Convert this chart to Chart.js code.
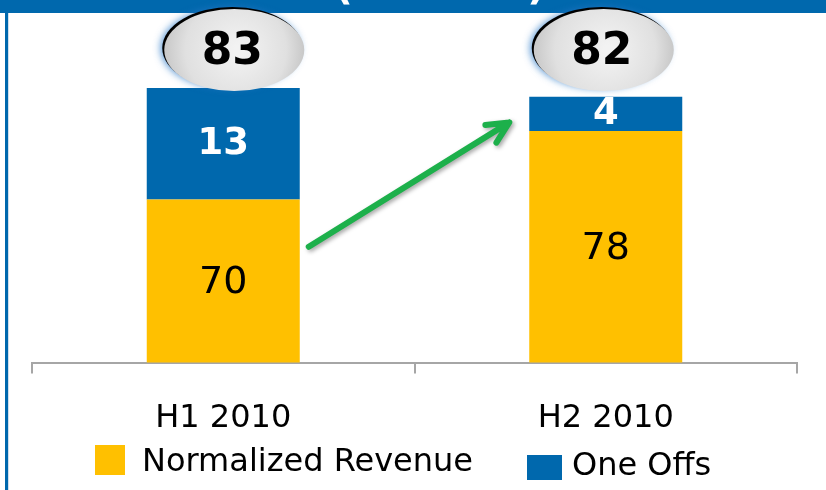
<!DOCTYPE html>
<html>
<head>
<meta charset="utf-8">
<script src="https://cdn.jsdelivr.net/npm/chart.js@4.4.1/dist/chart.umd.min.js"></script>
<style>
  html, body { margin: 0; padding: 0; background: #ffffff; }
  #wrap { width: 826px; height: 490px; position: relative; }
</style>
</head>
<body>
<div id="wrap"><canvas id="c" width="826" height="490"></canvas></div>
<script>
// ---- data ----
const categories = ['H1 2010', 'H2 2010'];
const normalizedRevenue = [70, 78];
const oneOffs = [13, 4];
const totals = [83, 82];
const seriesNames = ['Normalized Revenue', 'One Offs'];
const titleText = '(EUR mn)';

const YELLOW = '#FFC000';
const BLUE = '#0068AD';
const FONT = '"DejaVu Sans", Verdana, sans-serif';

const decorPlugin = {
  id: 'decor',
  beforeDraw(chart) {
    const ctx = chart.ctx;
    ctx.save();
    ctx.fillStyle = '#ffffff';
    ctx.fillRect(0, 0, chart.width, chart.height);
    ctx.restore();
  },
  afterDraw(chart) {
    const ctx = chart.ctx;
    const area = chart.chartArea;
    const y = chart.scales.y;
    const m0 = chart.getDatasetMeta(0);
    const m1 = chart.getDatasetMeta(1);

    // frame: top bar + left rule
    ctx.save();
    ctx.fillStyle = BLUE;
    ctx.fillRect(0, 0, chart.width, 13);
    ctx.fillRect(5, 0, 3, chart.height);
    ctx.fillStyle = '#cfe0ee';
    ctx.fillRect(8, 13, 1, chart.height - 13);
    // clipped title text (only its lowest part shows)
    ctx.beginPath();
    ctx.rect(0, 0, chart.width, 13);
    ctx.clip();
    ctx.fillStyle = '#ffffff';
    ctx.font = 'bold 40px ' + FONT;
    ctx.textAlign = 'center';
    ctx.textBaseline = 'alphabetic';
    ctx.fillText(titleText, 440, -1);
    ctx.restore();

    // segment labels
    ctx.save();
    ctx.textAlign = 'center';
    ctx.textBaseline = 'middle';
    m0.data.forEach((bar, i) => {
      const cy = (bar.y + Math.min(bar.base, area.bottom)) / 2;
      ctx.fillStyle = '#000000';
      ctx.font = '38px ' + FONT;
      ctx.fillText(String(normalizedRevenue[i]), bar.x, cy + 2);
    });
    m1.data.forEach((bar, i) => {
      const cy = (bar.y + Math.min(bar.base, area.bottom)) / 2;
      ctx.fillStyle = '#ffffff';
      ctx.font = 'bold 37px ' + FONT;
      ctx.fillText(String(oneOffs[i]), bar.x, cy + 1);
    });
    ctx.restore();

    // total ellipses
    m1.data.forEach((bar, i) => {
      const cx = bar.x + (i === 0 ? 11 : -2);
      const cy = area.top + 22;
      const rx = 70, ry = 41;
      ctx.save();
      ctx.shadowColor = 'rgba(40,120,200,0.7)';
      ctx.shadowBlur = 7;
      ctx.shadowOffsetX = -2;
      ctx.fillStyle = '#000000';
      ctx.beginPath();
      ctx.ellipse(cx - 2, cy - 2, rx, ry, 0, 0, Math.PI * 2);
      ctx.fill();
      ctx.restore();
      ctx.save();
      const g = ctx.createRadialGradient(cx + 5, cy, 5, cx, cy, rx);
      g.addColorStop(0, '#f2f2f2');
      g.addColorStop(0.7, '#e0e0e0');
      g.addColorStop(1, '#c8c8c8');
      ctx.fillStyle = g;
      ctx.beginPath();
      ctx.ellipse(cx, cy, rx, ry, 0, 0, Math.PI * 2);
      ctx.fill();
      ctx.fillStyle = '#000000';
      ctx.font = 'bold 44px ' + FONT;
      ctx.textAlign = 'center';
      ctx.textBaseline = 'middle';
      ctx.fillText(String(totals[i]), cx - 2, cy + 3);
      ctx.restore();
    });

    // green arrow between bars
    const a = m0.data[0], b = m1.data[1];
    const x0 = a.x + a.width / 2 + 9, y0 = y.getPixelForValue(64.5);
    const x1 = b.x - b.width / 2 - 20, y1 = y.getPixelForValue(79);
    const ang = Math.atan2(y1 - y0, x1 - x0);
    const L = 24, spread = 0.45;
    ctx.save();
    ctx.shadowColor = 'rgba(0,0,0,0.35)';
    ctx.shadowBlur = 4;
    ctx.shadowOffsetX = 2;
    ctx.shadowOffsetY = 2;
    ctx.strokeStyle = '#1DB04B';
    ctx.lineWidth = 6;
    ctx.lineCap = 'round';
    ctx.lineJoin = 'round';
    ctx.beginPath();
    ctx.moveTo(x0, y0);
    ctx.lineTo(x1, y1);
    ctx.moveTo(x1 - L * Math.cos(ang - spread), y1 - L * Math.sin(ang - spread));
    ctx.lineTo(x1, y1);
    ctx.lineTo(x1 - L * Math.cos(ang + spread), y1 - L * Math.sin(ang + spread));
    ctx.stroke();
    ctx.restore();

    // legend
    ctx.save();
    ctx.font = '32px ' + FONT;
    ctx.textBaseline = 'middle';
    ctx.textAlign = 'left';
    ctx.fillStyle = YELLOW;
    ctx.fillRect(95, 445, 30, 30);
    ctx.fillStyle = '#000000';
    ctx.fillText(seriesNames[0], 142, 463);
    ctx.fillStyle = BLUE;
    ctx.fillRect(527, 455, 35, 25);
    ctx.fillStyle = '#000000';
    ctx.fillText(seriesNames[1], 572, 467);
    ctx.restore();
  }
};

new Chart(document.getElementById('c'), {
  type: 'bar',
  data: {
    labels: categories,
    datasets: [
      { label: seriesNames[0], data: normalizedRevenue, backgroundColor: YELLOW, borderWidth: 0 },
      { label: seriesNames[1], data: oneOffs, backgroundColor: BLUE, borderWidth: 0 }
    ]
  },
  options: {
    responsive: false,
    animation: false,
    devicePixelRatio: 1,
    layout: { padding: { top: 28, left: 32, right: 29, bottom: 26 } },
    datasets: { bar: { barPercentage: 0.4, categoryPercentage: 1.0 } },
    plugins: { legend: { display: false }, tooltip: { enabled: false } },
    scales: {
      x: {
        stacked: true,
        border: { display: true, color: '#a6a6a6', width: 2 },
        grid: { display: true, offset: true, drawOnChartArea: false, drawTicks: true, tickLength: 11, color: '#a6a6a6', lineWidth: 2 },
        ticks: { color: '#000000', padding: 26, font: { family: FONT, size: 32 } }
      },
      y: {
        stacked: true,
        display: false,
        min: 51,
        max: 90
      }
    }
  },
  plugins: [decorPlugin]
});
</script>
</body>
</html>
